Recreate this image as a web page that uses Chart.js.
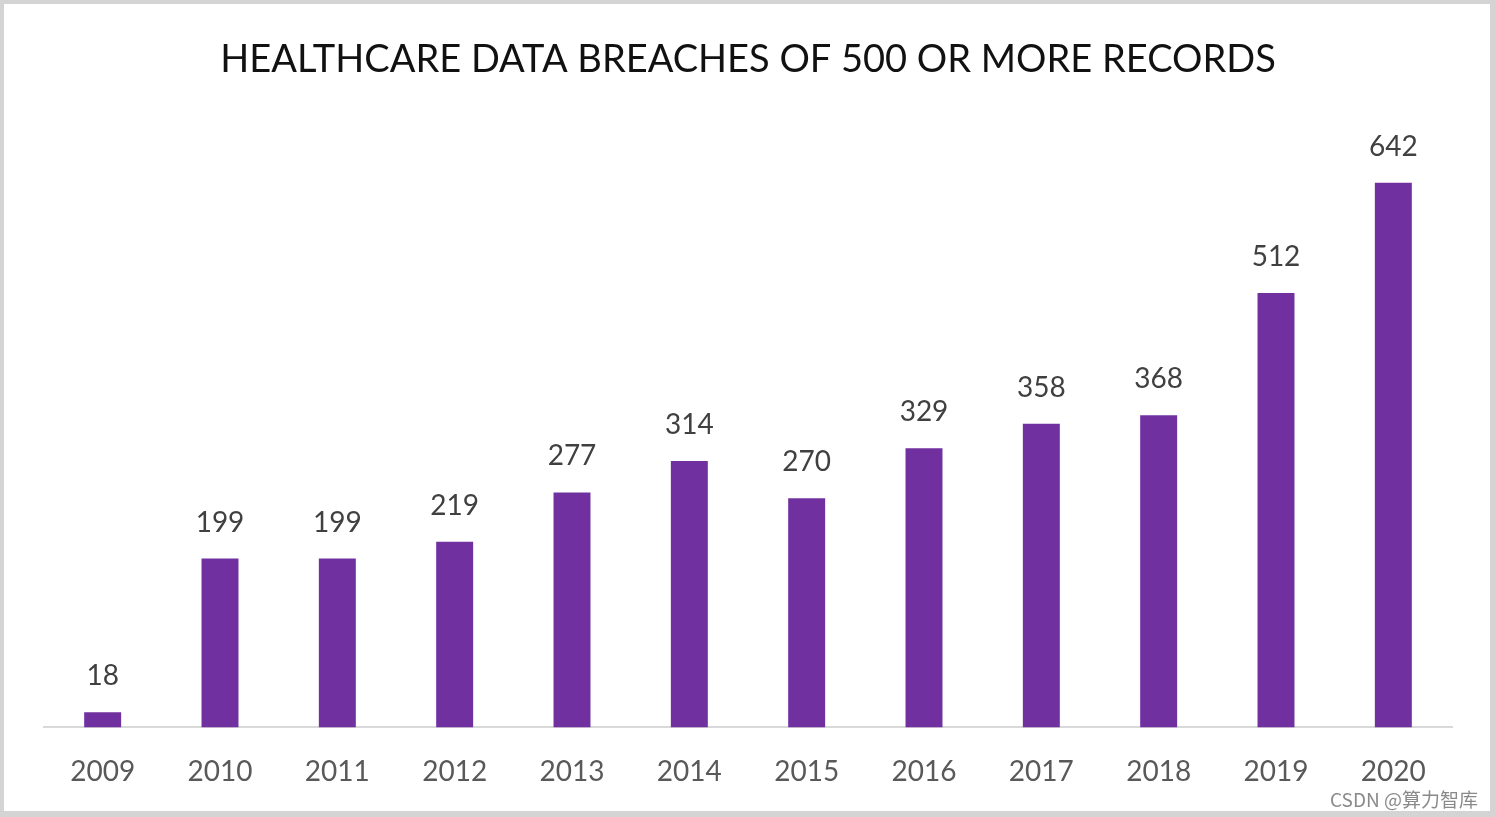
<!DOCTYPE html>
<html>
<head>
<meta charset="utf-8">
<script src="https://cdn.jsdelivr.net/npm/chart.js@4.4.1/dist/chart.umd.min.js"></script>
<style>
  html, body { margin: 0; padding: 0; background: #fff; }
  #wrap { position: relative; width: 1496px; height: 817px; overflow: hidden; }
  #frame { position: absolute; left: 0; top: 0; width: 1496px; height: 817px; box-sizing: border-box;
           border-style: solid; border-color: #d4d4d4; border-width: 4px 6px 6px 4px; pointer-events: none; }
  #mark { position: absolute; left: 1330px; top: 785px; font: 19px "Noto Sans CJK SC", sans-serif; color: #8a8a8a; }
</style>
</head>
<body>
<div id="wrap">
  <canvas id="chart" width="1496" height="817"></canvas>
  <div id="frame"></div>
  <div id="mark">CSDN @算力智库</div>
</div>
<script>
var years = ['2009','2010','2011','2012','2013','2014','2015','2016','2017','2018','2019','2020'];
var breaches = [18, 199, 199, 219, 277, 314, 270, 329, 358, 368, 512, 642];

// draws the number above each bar
var barLabels = {
    id: 'barLabels',
    afterDatasetsDraw: function( chart ){
        var ctx = chart.ctx;
        var meta = chart.getDatasetMeta( 0 );
        ctx.save();
        ctx.font = '28px Lato';
        ctx.fillStyle = '#404040';
        ctx.textAlign = 'center';
        ctx.textBaseline = 'bottom';
        meta.data.forEach(function( bar, i ){
            ctx.fillText( String( chart.data.datasets[0].data[i] ), bar.x, bar.y - 22 );
        });
        ctx.restore();
    }
};

var ctx = document.getElementById( 'chart' ).getContext( '2d' );
var breachChart = new Chart( ctx, {
    type: 'bar',
    data: {
        labels: years,
        datasets: [{
            data: breaches,
            backgroundColor: '#7030A0',
            borderWidth: 0,
            barPercentage: 0.63,
            categoryPercentage: 0.5
        }]
    },
    options: {
        responsive: false,
        animation: false,
        layout: { padding: { left: 44, right: 44, top: 0, bottom: 0 } },
        plugins: {
            legend: { display: false },
            tooltip: { enabled: false },
            title: {
                display: true,
                text: 'HEALTHCARE DATA BREACHES OF 500 OR MORE RECORDS',
                color: '#111111',
                font: { family: 'Lato', size: 38, weight: 'normal' },
                padding: { top: 37, bottom: 51 }
            }
        },
        scales: {
            x: {
                grid: { display: false, drawTicks: false },
                border: { display: true, color: '#d9d9d9', width: 2 },
                ticks: { color: '#595959', font: { family: 'Lato', size: 28 }, padding: 28 }
            },
            y: {
                display: false,
                min: 0,
                max: 700
            }
        }
    },
    plugins: [ barLabels ]
});
</script>
</body>
</html>
